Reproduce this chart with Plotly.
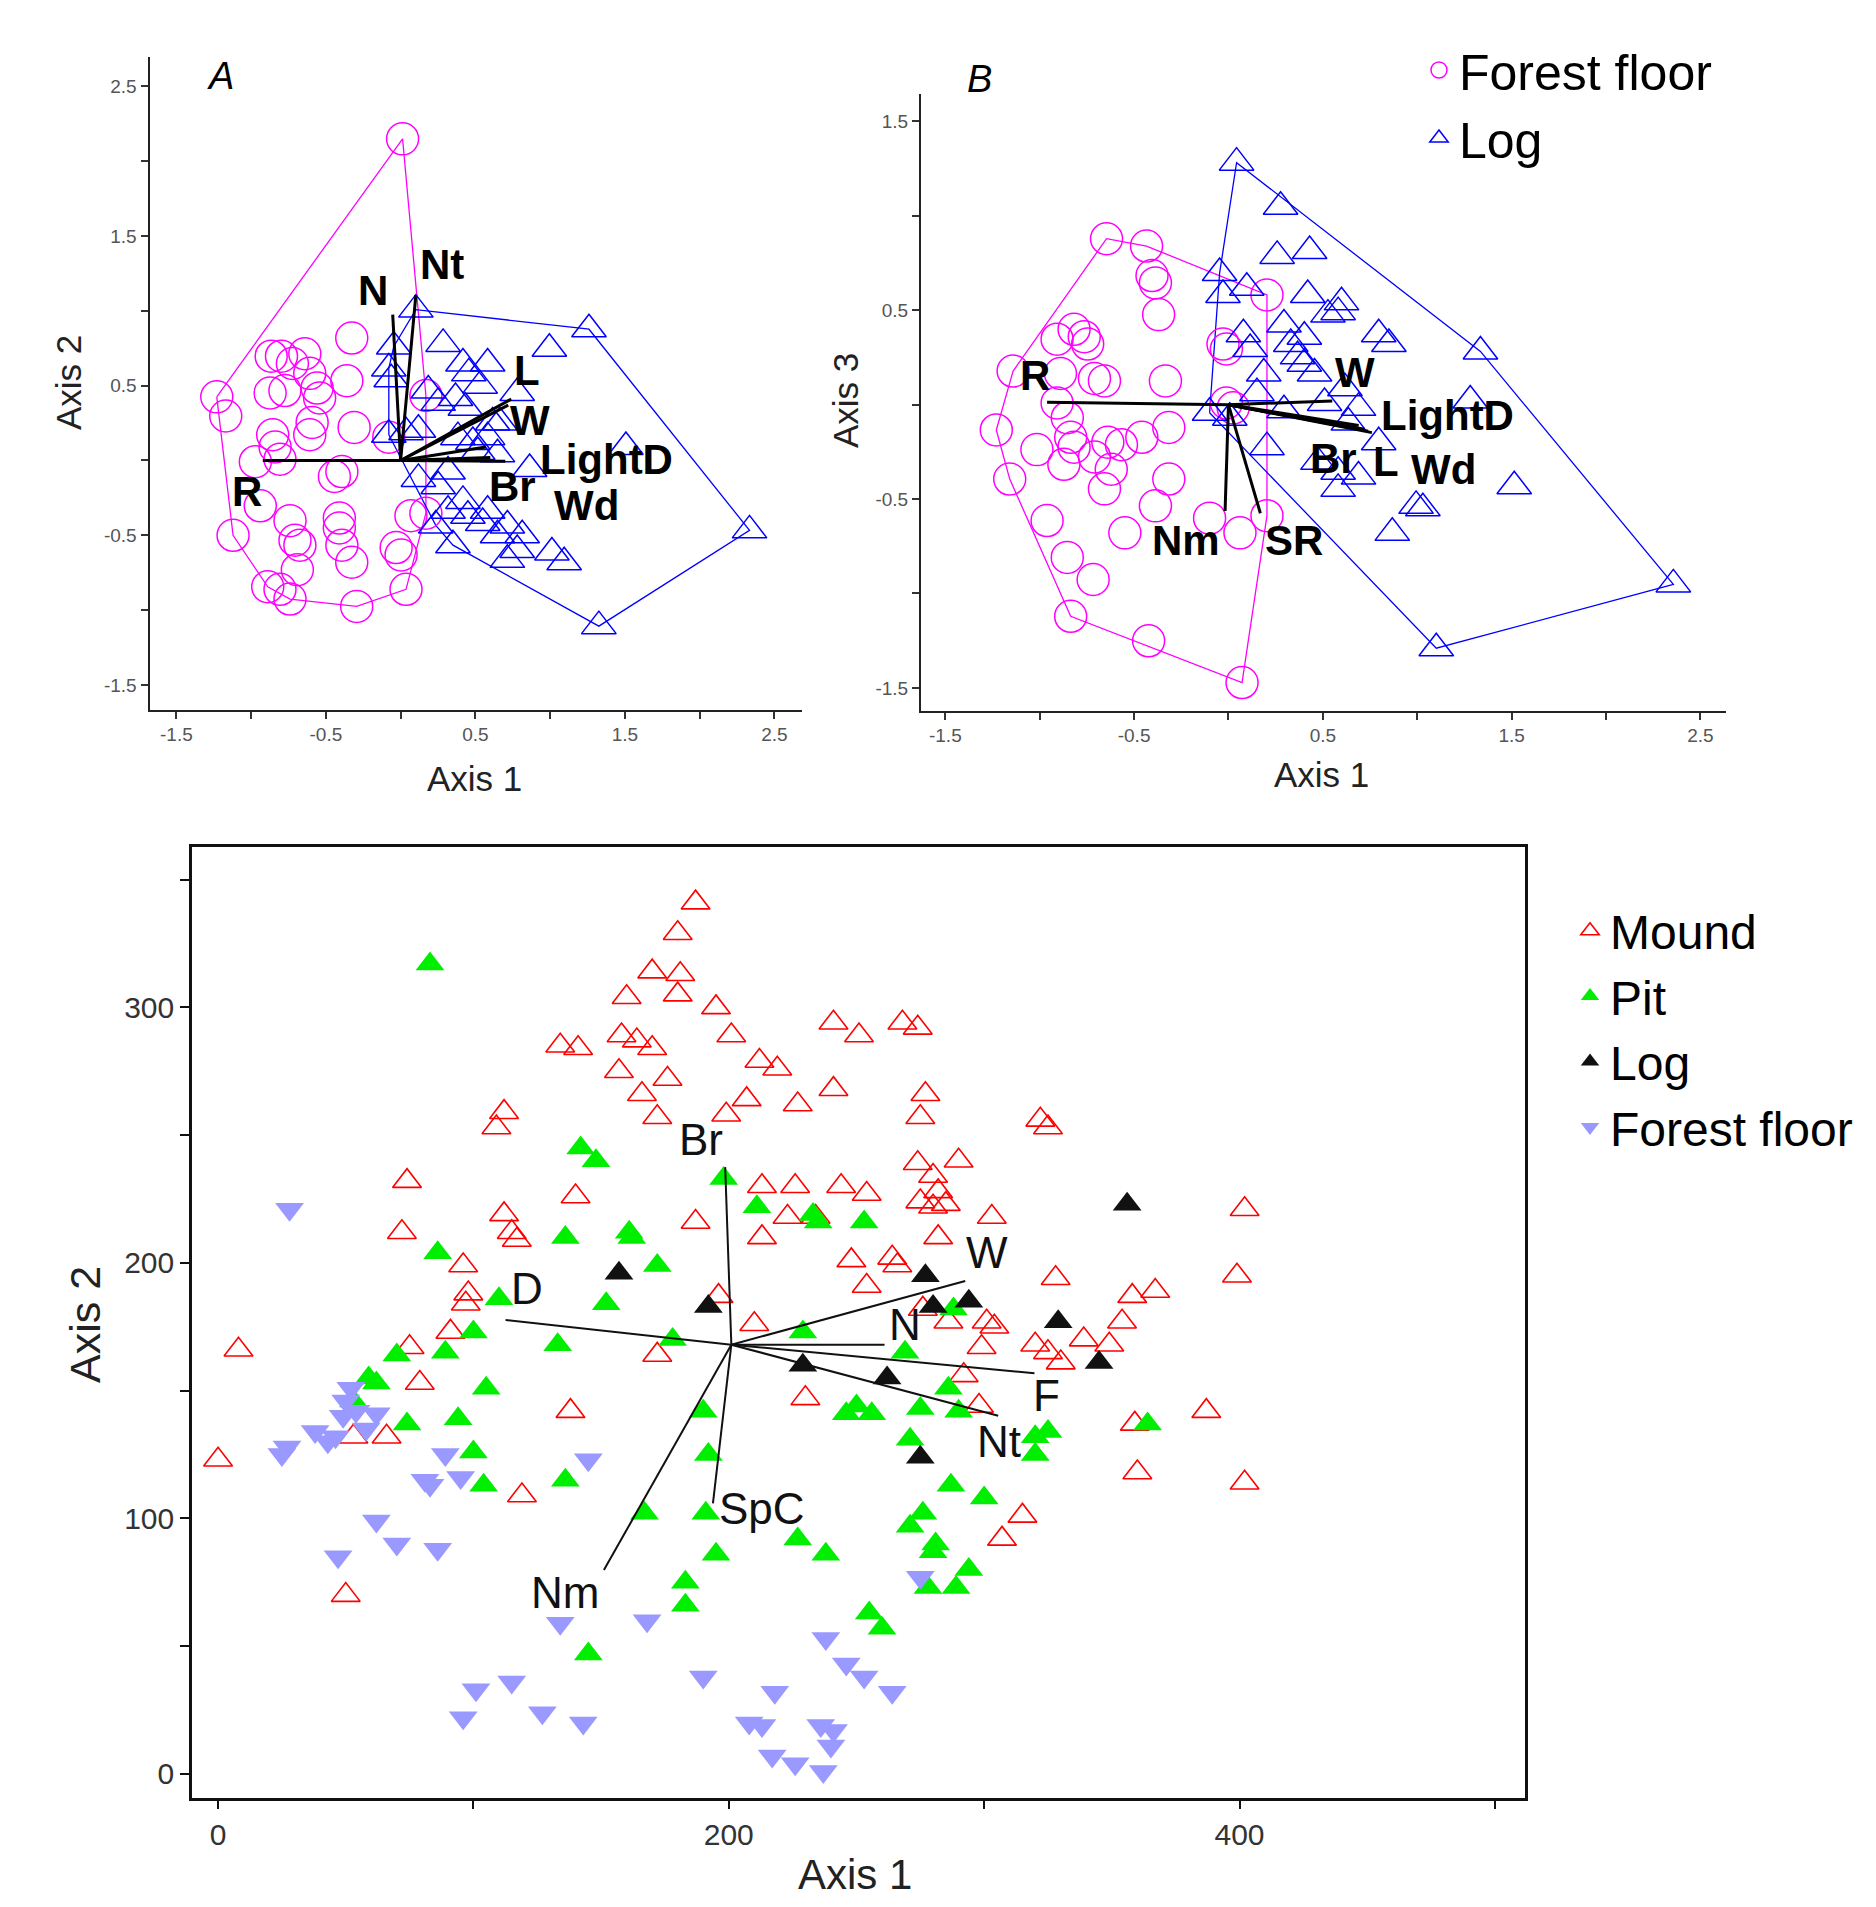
import plotly.graph_objects as go

# ---------------- Panel A (Axis 1 vs Axis 2) ----------------
A_ff_x = [0.013, -1.230, -1.170, -0.866, -0.797, -0.724, -0.641, -0.873, -0.774, -0.608, -0.559, -0.542,
          -0.327, -0.360, -0.592, -0.608, -0.311, -0.079, -0.856, -0.840, -0.807, -0.972, -0.443, -0.393,
          -0.939, -1.121, -0.740, -0.707, -0.674, -0.410, -0.410, -0.393, -0.327, -0.691, -0.889, -0.807,
          -0.740, -0.294, 0.036, -0.030, 0.003, 0.069, 0.169, 0.169]
A_ff_y = [2.149, 0.425, 0.297, 0.697, 0.697, 0.648, 0.713, 0.451, 0.467, 0.582, 0.484, 0.418,
          0.818, 0.533, 0.254, 0.172, 0.221, 0.156, 0.172, 0.090, 0.008, -0.008, -0.107, -0.074,
          -0.303, -0.500, -0.402, -0.533, -0.566, -0.385, -0.451, -0.566, -0.680, -0.730, -0.844, -0.861,
          -0.926, -0.975, -0.861, -0.582, -0.631, -0.369, -0.352, 0.434]
A_log_x = [0.102, -0.046, -0.079, -0.063, 0.284, 0.417, 0.456, 0.582, 0.995, 1.260, 0.185, 0.251,
           0.367, 0.433, 0.532, 0.615, 0.780, -0.079, 0.036, 0.119, 0.383, 0.483, 0.582, 0.664,
           1.507, 0.863, 0.119, 0.251, 0.317, 0.417, 0.317, 0.450, 0.582, 0.549, 0.714, 0.648,
           0.813, 0.780, 0.714, 1.012, 1.094, 0.350, 0.235, 2.334, 1.326, 0.648, 0.516]
A_log_y = [1.008, 0.762, 0.615, 0.543, 0.779, 0.648, 0.582, 0.648, 0.746, 0.877, 0.467, 0.385,
           0.418, 0.352, 0.500, 0.254, 0.451, 0.172, 0.189, 0.205, 0.156, 0.123, 0.156, 0.254,
           0.090, -0.057, -0.123, -0.172, -0.074, -0.270, -0.336, -0.369, -0.336, -0.418, -0.434, -0.500,
           -0.500, -0.598, -0.664, -0.615, -0.680, -0.566, -0.434, -0.467, -1.107, 0.041, 0.057]
A_vec_names = ["R", "N", "Nt", "L", "W", "LightD", "Br", "Wd"]
A_vec_x = [-0.922, -0.053, 0.102, 0.74, 0.72, 0.57, 0.70, 0.60]
A_vec_y = [0.0, 0.975, 1.107, 0.41, 0.37, 0.09, -0.005, 0.02]
A_lab_x = [-1.031, -0.185, 0.278, 0.846, 0.863, 1.375, 0.747, 1.243]
A_lab_y = [-0.205, 1.139, 1.310, 0.600, 0.270, 0.005, -0.172, -0.303]

# ---------------- Panel B (Axis 1 vs Axis 3) ----------------
B_ff_x = [-0.646, -0.434, -0.405, -0.387, -0.370, 0.204, -0.029, -0.011, -0.818, -0.764, -0.746, -0.908,
          -1.141, -0.890, -0.710, -0.657, -0.334, -0.908, -0.854, -0.011, 0.025, -1.230, -1.015, -0.836,
          -0.818, -0.710, -0.639, -0.567, -0.621, -0.459, -0.316, -0.872, -1.159, -0.657, -0.316, -0.387,
          -0.961, -0.549, -0.100, 0.061, 0.204, -0.854, -0.717, -0.836, -0.423, 0.072]
B_ff_y = [0.879, 0.840, 0.684, 0.645, 0.477, 0.581, 0.321, 0.295, 0.399, 0.360, 0.321, 0.347,
          0.178, 0.165, 0.139, 0.126, 0.126, 0.009, -0.069, 0.009, -0.017, -0.134, -0.238, -0.173,
          -0.225, -0.277, -0.199, -0.212, -0.342, -0.173, -0.121, -0.316, -0.394, -0.446, -0.394, -0.536,
          -0.614, -0.679, -0.601, -0.679, -0.588, -0.809, -0.926, -1.121, -1.251, -1.472]
B_log_x = [0.043, 0.276, 0.258, 0.430, -0.047, -0.029, 0.097, 0.420, 0.599, 0.581, 0.527, 0.294,
           0.402, 0.330, 0.079, 0.115, 0.187, 0.366, 0.402, 0.456, 0.796, 0.850, 1.335, 1.281,
           0.617, 0.689, 0.509, 0.294, 0.151, -0.100, 0.007, 0.204, 0.635, 0.796, 0.474, 0.581,
           0.689, 0.581, 1.514, 0.994, 1.030, 0.868, 2.357, 1.101]
B_log_y = [1.282, 1.048, 0.788, 0.814, 0.697, 0.581, 0.619, 0.581, 0.542, 0.490, 0.477, 0.425,
           0.360, 0.321, 0.373, 0.295, 0.165, 0.256, 0.217, 0.165, 0.373, 0.321, 0.282, 0.022,
           0.087, -0.017, 0.009, -0.030, 0.061, -0.043, -0.069, -0.225, -0.095, -0.199, -0.303, -0.355,
           -0.381, -0.446, -0.432, -0.536, -0.549, -0.679, -0.952, -1.290]
B_vec_names = ["R", "W", "LightD", "Br", "L", "Wd", "Nm", "SR"]
B_vec_x = [-0.961, 0.55, 0.76, 0.69, 0.72, 0.74, -0.018, 0.169]
B_vec_y = [0.013, 0.02, -0.148, -0.11, -0.13, -0.14, -0.563, -0.575]
B_lab_x = [-1.026, 0.671, 1.160, 0.558, 0.835, 1.137, -0.226, 0.348]
B_lab_y = [0.152, 0.170, -0.055, -0.285, -0.300, -0.341, -0.718, -0.718]

top_tickvals = [-1.5, -1.0, -0.5, 0.0, 0.5, 1.0, 1.5, 2.0, 2.5]
top_ticktext = ["-1.5", "", "-0.5", "", "0.5", "", "1.5", "", "2.5"]
B_ytickvals = [-1.5, -1.0, -0.5, 0.0, 0.5, 1.0, 1.5]
B_yticktext = ["-1.5", "", "-0.5", "", "0.5", "", "1.5"]

# ---------------- Bottom panel ----------------
mound = [(187, 341), (180, 329), (170, 314), (181, 313), (180, 305), (160, 304), (195, 300), (201, 289),
         (158, 289), (164, 287), (170, 284), (134, 285), (141, 284), (157, 275), (176, 272), (166, 266),
         (172, 257), (212, 279), (219, 276), (207, 264), (199, 258), (227, 262), (241, 294), (251, 289),
         (268, 294), (274, 292), (241, 268), (277, 266), (275, 257), (322, 256), (325, 253), (112, 259),
         (109, 253), (74, 232), (72, 212), (112, 219), (117, 209), (115, 212), (140, 226), (187, 216),
         (213, 230), (226, 230), (213, 210), (223, 218), (234, 218), (244, 230), (254, 227), (274, 239),
         (280, 234), (290, 240), (282, 228), (275, 224), (280, 222), (285, 223), (282, 210), (303, 218),
         (264, 202), (266, 199), (248, 201), (254, 191), (96, 199), (98, 188), (97, 184), (91, 173),
         (75, 167), (79, 153), (138, 142), (172, 164), (196, 187), (210, 176), (230, 147), (8, 166),
         (0, 123), (50, 70), (53, 132), (66, 132), (119, 109), (276, 182), (286, 177), (301, 177),
         (304, 175), (299, 167), (292, 156), (298, 144), (328, 194), (320, 168), (325, 165), (330, 161),
         (339, 170), (349, 168), (354, 177), (358, 187), (367, 189), (402, 221), (399, 195), (387, 142),
         (359, 137), (360, 118), (402, 114), (315, 101), (307, 92)]
pit = [(83, 317), (142, 245), (148, 240), (86, 204), (110, 186), (136, 210), (161, 212), (162, 210),
       (172, 199), (152, 184), (133, 168), (100, 173), (89, 165), (70, 164), (59, 155), (62, 153),
       (53, 146), (74, 137), (94, 139), (105, 151), (100, 126), (104, 113), (136, 115), (167, 102),
       (178, 170), (198, 233), (211, 222), (233, 219), (235, 216), (253, 216), (229, 173), (190, 142),
       (192, 125), (191, 102), (195, 86), (183, 75), (183, 66), (145, 47), (227, 92), (238, 86),
       (246, 141), (250, 144), (256, 141), (269, 165), (275, 143), (271, 131), (287, 113), (276, 102),
       (281, 90), (280, 87), (271, 97), (294, 80), (289, 73), (278, 73), (255, 63), (260, 57),
       (286, 151), (290, 142), (300, 108), (320, 132), (325, 134), (320, 125), (364, 137), (288, 182)]
log_pts = [(157, 196), (192, 183), (277, 195), (280, 183), (294, 185), (229, 160), (262, 155), (275, 124),
           (329, 177), (345, 161), (356, 223)]
forest = [(28, 221), (52, 151), (50, 146), (54, 142), (49, 140), (62, 141), (58, 135), (46, 132),
          (38, 134), (43, 130), (27, 128), (25, 125), (81, 115), (95, 116), (89, 125), (83, 113),
          (145, 123), (62, 99), (70, 90), (86, 88), (47, 85), (134, 59), (168, 60), (101, 33),
          (115, 36), (96, 22), (127, 24), (143, 20), (190, 38), (208, 20), (213, 19), (218, 32),
          (217, 7), (226, 4), (236, 19), (241, 17), (240, 11), (237, 1), (238, 53), (246, 43),
          (253, 38), (264, 32), (275, 77)]
C_centre = (201, 168)
C_vec_names = ["Br", "D", "W", "N", "F", "Nt", "SpC", "Nm"]
C_vec_x = [198.6, 112.6, 292.6, 261.0, 319.7, 305.5, 193.8, 151.1]
C_vec_y = [237.5, 177.7, 192.9, 168.0, 156.8, 140.2, 105.9, 79.8]
C_lab_x = [189, 121, 301, 269, 324.5, 306, 213, 136]
C_lab_y = [248.5, 190, 204, 176, 148, 130, 104, 71]
C_xtickvals = [0, 100, 200, 300, 400, 500]
C_xticktext = ["0", "", "200", "", "400", ""]
C_ytickvals = [0, 50, 100, 150, 200, 250, 300, 350]
C_yticktext = ["0", "", "100", "", "200", "", "300", ""]

FONT = "Arial, Liberation Sans, sans-serif"
MAG = "#FF00FF"
BLU = "#0000FF"


def hull(xs, ys):
    pts = sorted(set(zip(xs, ys)))

    def cross(o, a, b):
        return (a[0] - o[0]) * (b[1] - o[1]) - (a[1] - o[1]) * (b[0] - o[0])
    lower, upper = [], []
    for p in pts:
        while len(lower) >= 2 and cross(lower[-2], lower[-1], p) <= 0:
            lower.pop()
        lower.append(p)
    for p in reversed(pts):
        while len(upper) >= 2 and cross(upper[-2], upper[-1], p) <= 0:
            upper.pop()
        upper.append(p)
    h = lower[:-1] + upper[:-1]
    h.append(h[0])
    return [p[0] for p in h], [p[1] for p in h]


def vec_xy(cx, cy, ex, ey):
    xs, ys = [], []
    for a, b in zip(ex, ey):
        xs += [cx, a, None]
        ys += [cy, b, None]
    return xs, ys


fig = go.Figure()

# Panel A & B
for ax, ffx, ffy, lgx, lgy, show in [("", A_ff_x, A_ff_y, A_log_x, A_log_y, True),
                                     ("2", B_ff_x, B_ff_y, B_log_x, B_log_y, False)]:
    xa, ya = "x" + ax, "y" + ax
    hx, hy = hull(ffx, ffy)
    fig.add_trace(go.Scatter(x=hx, y=hy, mode="lines", line=dict(color=MAG, width=1.3),
                             xaxis=xa, yaxis=ya, showlegend=False, hoverinfo="skip"))
    hx, hy = hull(lgx, lgy)
    fig.add_trace(go.Scatter(x=hx, y=hy, mode="lines", line=dict(color=BLU, width=1.3),
                             xaxis=xa, yaxis=ya, showlegend=False, hoverinfo="skip"))
    fig.add_trace(go.Scatter(x=ffx, y=ffy, mode="markers", name="Forest floor",
                             marker=dict(symbol="circle-open", size=32, color=MAG, line=dict(width=1.5, color=MAG)),
                             xaxis=xa, yaxis=ya, showlegend=show, legend="legend"))
    fig.add_trace(go.Scatter(x=lgx, y=lgy, mode="markers", name="Log",
                             marker=dict(symbol="triangle-up-open", size=30, color=BLU, line=dict(width=1.5, color=BLU)),
                             xaxis=xa, yaxis=ya, showlegend=show, legend="legend"))

vx, vy = vec_xy(0, 0, A_vec_x, A_vec_y)
fig.add_trace(go.Scatter(x=vx, y=vy, mode="lines", line=dict(color="black", width=3),
                         xaxis="x", yaxis="y", showlegend=False, hoverinfo="skip"))
vx, vy = vec_xy(0, 0, B_vec_x, B_vec_y)
fig.add_trace(go.Scatter(x=vx, y=vy, mode="lines", line=dict(color="black", width=3),
                         xaxis="x2", yaxis="y2", showlegend=False, hoverinfo="skip"))

# Bottom panel
groups = [("Mound", mound, dict(symbol="triangle-up-open", color="#FF0000", line=dict(width=1.6, color="#FF0000"))),
          ("Pit", pit, dict(symbol="triangle-up", color="#00EE00", line=dict(width=0))),
          ("Log", log_pts, dict(symbol="triangle-up", color="#111111", line=dict(width=0))),
          ("Forest floor", forest, dict(symbol="triangle-down", color="#9999FF", line=dict(width=0)))]
for name, pts, mk in groups:
    mk = dict(mk, size=25)
    fig.add_trace(go.Scatter(x=[p[0] for p in pts], y=[p[1] for p in pts], mode="markers", name=name,
                             marker=mk, xaxis="x3", yaxis="y3", legend="legend2"))
vx, vy = vec_xy(C_centre[0], C_centre[1], C_vec_x, C_vec_y)
fig.add_trace(go.Scatter(x=vx, y=vy, mode="lines", line=dict(color="#111111", width=2),
                         xaxis="x3", yaxis="y3", showlegend=False, hoverinfo="skip"))

ann = []
for names, lx, ly, xr, yr in [(A_vec_names, A_lab_x, A_lab_y, "x", "y"),
                              (B_vec_names, B_lab_x, B_lab_y, "x2", "y2")]:
    for n, a, b in zip(names, lx, ly):
        ann.append(dict(x=a, y=b, xref=xr, yref=yr, text="<b>%s</b>" % n, showarrow=False,
                        xanchor="center", yanchor="middle", borderpad=0,
                        font=dict(family=FONT, size=42, color="black")))
for n, a, b in zip(C_vec_names, C_lab_x, C_lab_y):
    ann.append(dict(x=a, y=b, xref="x3", yref="y3", text=n, showarrow=False,
                    xanchor="center", yanchor="middle", borderpad=0,
                    font=dict(family=FONT, size=44, color="#111111")))

# page has an 8px body margin around the figure
OFF = 8
W, H = 1876 - 2 * OFF, 1907 - 2 * OFF


def px(x):
    return (x - OFF) / W


def py(y):
    return 1 - (y - OFF) / H


titles = [("Axis 1", 474, 778, 0, 35), ("Axis 2", 69, 383, -90, 35),
          ("Axis 1", 1321, 774, 0, 35), ("Axis 3", 845, 401, -90, 35),
          ("Axis 1", 855, 1874, 0, 42), ("Axis 2", 85, 1325, -90, 43)]
for t, x, y, ang, s in titles:
    ann.append(dict(x=px(x), y=py(y), xref="paper", yref="paper", text=t, showarrow=False,
                    xanchor="center", yanchor="middle", textangle=ang,
                    font=dict(family=FONT, size=s, color="#222222")))
for t, x, y in [("A", 220, 76), ("B", 979, 79)]:
    ann.append(dict(x=px(x), y=py(y), xref="paper", yref="paper", text="<i>%s</i>" % t, showarrow=False,
                    xanchor="center", yanchor="middle", font=dict(family=FONT, size=38, color="black")))

top_ax = dict(showline=True, linecolor="#222222", linewidth=2, ticks="outside", ticklen=7, tickwidth=1.5,
              tickcolor="#333333", showgrid=False, zeroline=False,
              tickfont=dict(family=FONT, size=19, color="#555555"))
bot_ax = dict(showline=True, linecolor="#111111", linewidth=2.5, mirror=True, ticks="outside", ticklen=9,
              tickwidth=2, tickcolor="#111111", showgrid=False, zeroline=False,
              tickfont=dict(family=FONT, size=30, color="#333333"))

fig.update_layout(
    width=W, height=H, margin=dict(l=0, r=0, t=0, b=0),
    paper_bgcolor="white", plot_bgcolor="white",
    font=dict(family=FONT),
    xaxis=dict(top_ax, domain=[px(149.5), px(802)], range=[-1.680, 2.685], anchor="y",
               tickvals=top_tickvals, ticktext=top_ticktext),
    yaxis=dict(top_ax, domain=[py(709.5), py(57)], range=[-1.664, 2.696], anchor="x",
               tickvals=top_tickvals, ticktext=top_ticktext),
    xaxis2=dict(top_ax, domain=[px(921), px(1726)], range=[-1.629, 2.636], anchor="y2",
                tickvals=top_tickvals, ticktext=top_ticktext),
    yaxis2=dict(top_ax, domain=[py(710.5), py(94.3)], range=[-1.620, 1.644], anchor="x2",
                tickvals=B_ytickvals, ticktext=B_yticktext),
    xaxis3=dict(bot_ax, domain=[px(192), px(1525)], range=[-10.2, 511.8], anchor="y3",
                tickvals=C_xtickvals, ticktext=C_xticktext),
    yaxis3=dict(bot_ax, domain=[py(1797.5), py(847.2)], range=[-9.2, 362.7], anchor="x3",
                tickvals=C_ytickvals, ticktext=C_yticktext),
    legend=dict(x=px(1419), y=py(31), xanchor="left", yanchor="top", bgcolor="rgba(0,0,0,0)",
                font=dict(family=FONT, size=50, color="black"), itemsizing="trace", tracegroupgap=0),
    legend2=dict(x=px(1570), y=py(893), xanchor="left", yanchor="top", bgcolor="rgba(0,0,0,0)",
                 font=dict(family=FONT, size=48, color="black"), itemsizing="trace", tracegroupgap=0),
    annotations=ann,
)

fig.write_html("out.html")
